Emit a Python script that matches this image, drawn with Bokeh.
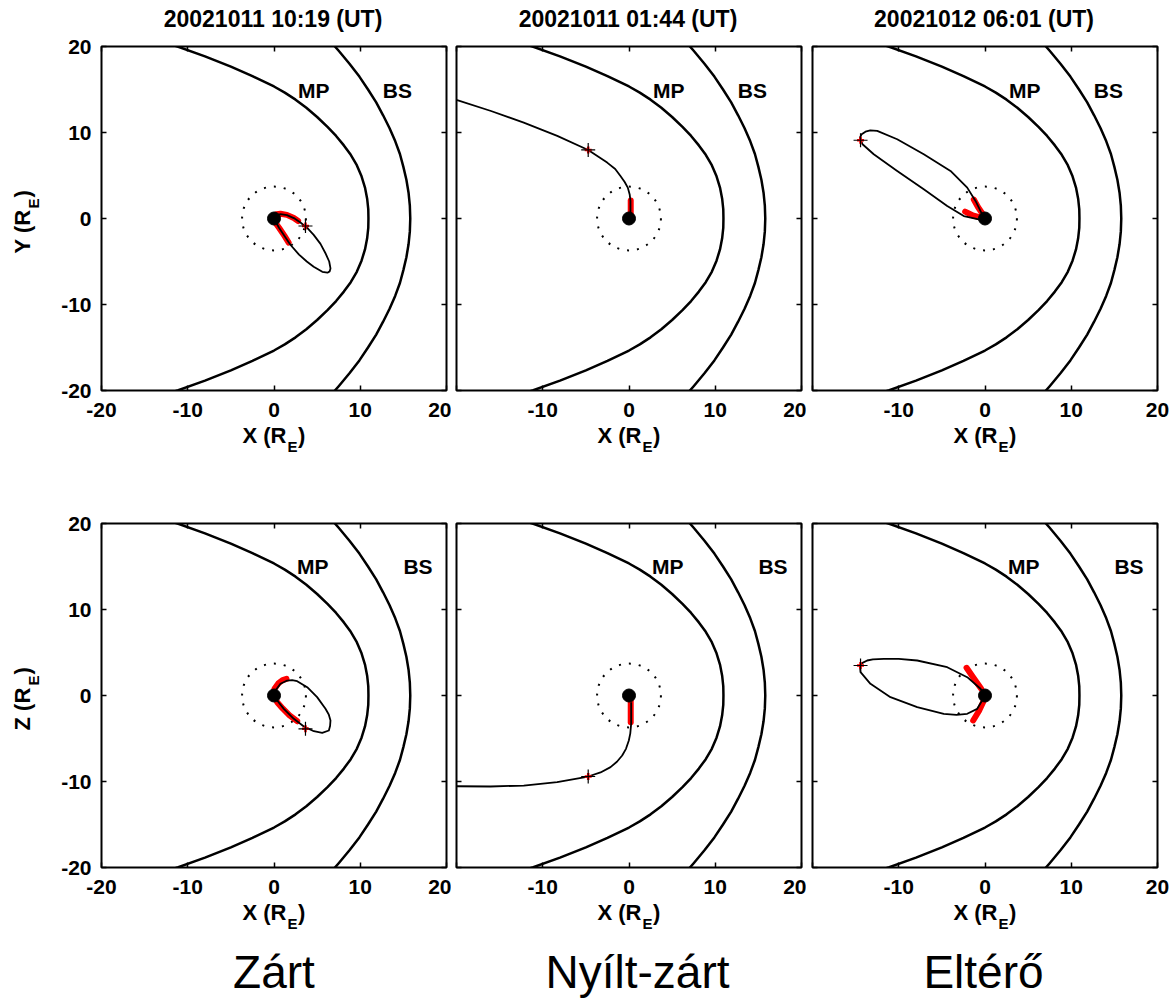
import math
from bokeh.plotting import figure
from bokeh.models import Label, FixedTicker, LinearAxis, Range1d, CustomLabelingPolicy
from bokeh.layouts import row, column
from bokeh.embed import file_html
from bokeh.resources import INLINE

FONT = "Liberation Sans"

# ---------------- data ----------------
ticks = [-20, -10, 0, 10, 20]
tick_labels = ["-20", "-10", "0", "10", "20"]
titles = ["20021011 10:19 (UT)", "20021011 01:44 (UT)", "20021012 06:01 (UT)"]
captions = ["Zárt", "Nyílt-zárt", "Eltérő"]
row_vars = ["Y", "Z"]
boundary_names = ["MP", "BS"]

# magnetopause (MP) and bow shock (BS), same in every panel
mp_x = [-13.5, -11.1, -8.0, -5.0, -2.5, 0.0, 1.25, 2.5, 3.75, 5.0, 6.2, 7.2, 8.1, 8.9, 9.6, 10.15, 10.55, 10.8, 10.93, 10.95,
        10.93, 10.8, 10.55, 10.15, 9.6, 8.9, 8.1, 7.2, 6.2, 5.0, 3.75, 2.5, 1.25, 0.0, -2.5, -5.0, -8.0, -11.1, -13.5]
mp_y = [20.76, 19.97, 18.85, 17.65, 16.55, 15.35, 14.64, 13.82, 12.87, 11.8, 10.65, 9.6, 8.5, 7.4, 6.2, 4.9, 3.6, 2.3, 1.1, 0.0,
        -1.1, -2.3, -3.6, -4.9, -6.2, -7.4, -8.5, -9.6, -10.65, -11.8, -12.87, -13.82, -14.64, -15.35, -16.55, -17.65, -18.85, -19.97, -20.76]
bs_x = [6.2, 7.5, 8.75, 9.9, 10.9, 11.85, 12.65, 13.4, 14.05, 14.6, 15.0, 15.35, 15.6, 15.75, 15.8,
        15.75, 15.6, 15.35, 15.0, 14.6, 14.05, 13.4, 12.65, 11.85, 10.9, 9.9, 8.75, 7.5, 6.2]
bs_y = [21.0, 19.5, 18.0, 16.5, 15.0, 13.5, 12.0, 10.5, 9.0, 7.5, 6.0, 4.5, 3.0, 1.5, 0.0,
        -1.5, -3.0, -4.5, -6.0, -7.5, -9.0, -10.5, -12.0, -13.5, -15.0, -16.5, -18.0, -19.5, -21.0]

earth_x = [0.0]
earth_y = [0.0]
circle_r = 3.7

# panel A: Zárt, X-Y
a_orbit_x = [0.2, 0.75, 1.5, 2.3, 3.1, 3.85, 4.6, 5.39, 6.0, 6.4, 6.55, 6.45, 6.2,
             5.6, 4.6, 3.8, 2.9, 1.9, 1.2, 0.6, 0.2]
a_orbit_y = [0.35, 0.5, 0.4, 0.05, -0.5, -1.1, -1.9, -2.95, -4.1, -5.0, -5.8, -6.15, -6.3,
             -6.2, -5.6, -5.0, -4.2, -3.05, -2.0, -1.1, -0.4]
a_red1_x = [0.3, 0.75, 1.5, 2.3, 2.8]
a_red1_y = [0.5, 0.55, 0.42, 0.05, -0.3]
a_red2_x = [0.1, 0.6, 1.2, 1.7]
a_red2_y = [-0.4, -1.1, -2.0, -2.8]
a_mark = (3.65, -0.87)

# panel B: Nyílt-zárt, X-Y
b_orbit_x = [-20.5, -19.92, -16.0, -12.2, -8.32, -4.73, -2.53, -1.6, -0.99, -0.5, -0.14, 0.08, 0.17, 0.17]
b_orbit_y = [14.0, 13.76, 12.5, 11.15, 9.6, 7.97, 6.5, 5.75, 4.95, 4.25, 3.59, 2.8, 2.04, 0.49]
b_red1_x = [0.2, 0.2]
b_red1_y = [2.1, 0.3]
b_mark = (-4.73, 7.97)

# panel C: Eltérő, X-Y
c_orbit_x = [0.0, -0.33, -1.10, -2.06, -4.0, -7.1, -10.18, -12.5, -13.3, -13.86, -14.3, -14.5,
             -14.2, -12.9, -10.18, -7.1, -4.38, -2.46, -0.72, 0.06]
c_orbit_y = [0.0, 0.49, 2.04, 3.59, 5.53, 7.47, 9.22, 10.19, 10.25, 10.1, 9.8, 9.4,
             8.63, 7.47, 5.53, 3.4, 1.46, 0.29, -0.1, -0.1]
c_red1_x = [-1.3, -0.8, -0.25]
c_red1_y = [2.2, 1.3, 0.5]
c_red2_x = [-2.3, -1.4, -0.5]
c_red2_y = [0.8, 0.35, 0.1]
c_mark = (-14.43, 9.1)

# panel D: Zárt, X-Z
d_orbit_x = [0.0, 0.17, 0.75, 1.53, 2.1, 2.69, 3.85, 5.0, 5.97, 6.35, 6.55, 6.5, 6.36, 5.59,
             4.62, 3.46, 2.3, 1.14, 0.37, 0.0]
d_orbit_y = [0.0, 0.58, 1.36, 1.74, 1.78, 1.66, 0.97, -0.19, -1.55, -2.2, -2.9, -3.55, -4.07, -4.34,
             -4.15, -3.6, -2.71, -1.55, -0.58, 0.0]
d_red1_x = [0.06, 0.5, 1.0, 1.45]
d_red1_y = [0.78, 1.4, 1.8, 1.94]
d_red2_x = [0.37, 1.0, 1.8, 2.69]
d_red2_y = [-0.78, -1.5, -2.3, -2.99]
d_mark = (3.65, -3.87)

# panel E: Nyílt-zárt, X-Z
e_orbit_x = [0.25, 0.25, 0.15, -0.02, -0.35, -0.79, -1.4, -2.14, -3.3, -4.73, -8.33, -12.2, -16.06, -19.92, -20.5]
e_orbit_y = [-0.78, -3.29, -4.4, -5.23, -6.2, -6.98, -7.7, -8.33, -8.95, -9.42, -10.08, -10.47, -10.58, -10.55, -10.55]
e_red1_x = [0.2, 0.2]
e_red1_y = [-0.6, -3.1]
e_mark = (-4.73, -9.42)

# panel F: Eltérő, X-Z
f_orbit_x = [0.0, -0.52, -2.06, -4.38, -7.86, -10.0, -11.73, -13.0, -13.66, -14.2, -14.5, -14.43, -13.28,
             -10.96, -7.86, -4.78, -3.3, -2.06, -0.9, -0.33, 0.0]
f_orbit_y = [0.0, 0.78, 2.13, 3.29, 4.07, 4.25, 4.26, 4.2, 4.07, 3.8, 3.49, 2.71, 1.36,
             -0.19, -1.36, -2.13, -2.25, -2.13, -1.55, -0.58, 0.0]
f_red1_x = [-2.14, -1.3, -0.44]
f_red1_y = [3.22, 2.0, 0.78]
f_red2_x = [-0.13, -0.7, -1.37]
f_red2_y = [-0.58, -1.8, -2.9]
f_mark = (-14.43, 3.49)

# label positions (data units) for MP / BS per row
row_label_pos = [[(4.6, 14.9), (14.3, 14.9)], [(4.5, 15.0), (16.7, 15.0)]]

panels = [
    [dict(ox=a_orbit_x, oy=a_orbit_y, reds=[(a_red1_x, a_red1_y), (a_red2_x, a_red2_y)], mark=a_mark),
     dict(ox=b_orbit_x, oy=b_orbit_y, reds=[(b_red1_x, b_red1_y)], mark=b_mark),
     dict(ox=c_orbit_x, oy=c_orbit_y, reds=[(c_red1_x, c_red1_y), (c_red2_x, c_red2_y)], mark=c_mark)],
    [dict(ox=d_orbit_x, oy=d_orbit_y, reds=[(d_red1_x, d_red1_y), (d_red2_x, d_red2_y)], mark=d_mark),
     dict(ox=e_orbit_x, oy=e_orbit_y, reds=[(e_red1_x, e_red1_y)], mark=e_mark),
     dict(ox=f_orbit_x, oy=f_orbit_y, reds=[(f_red1_x, f_red1_y), (f_red2_x, f_red2_y)], mark=f_mark)],
]

# ---------------- layout (pixels) ----------------
FW, FH = 345, 344
YSTRIP_W = 50
lefts = [51, 5, 6]          # panel left borders (first panel sits after the y-label strip)
strip_lefts = [101, 5, 6]   # strips spanning the y-label column too
rights = [5, 5, 14]
panel_tops = [12, 63]
panel_bottom = 33
TITLE_H = 34
XLAB_H = 37
XCAP_H = 99
BASE_K = 0.38   # empirical baseline correction (fraction of font size)

HIDE_ALL = CustomLabelingPolicy(code="""
const ids = Array.from(indices);
for (const i of ids) { indices.unset(i); }
return indices;
""")
HIDE_FIRST = CustomLabelingPolicy(code="""
indices.unset(0);
return indices;
""")


def style_axis(ax, labels):
    ax.ticker = FixedTicker(ticks=ticks, minor_ticks=[])
    ax.major_tick_in = 5
    ax.major_tick_out = 0
    ax.major_tick_line_width = 1.5
    ax.major_tick_line_color = "black"
    ax.minor_tick_line_color = None
    ax.axis_line_color = None
    if labels:
        ax.major_label_overrides = dict(zip(ticks, tick_labels))
        ax.major_label_text_font = FONT
        ax.major_label_text_font_style = "bold"
        ax.major_label_text_font_size = "21px"
        ax.major_label_text_color = "black"
    else:
        ax.major_label_policy = HIDE_ALL
        ax.major_label_text_font_size = "0px"
        ax.major_label_standoff = 0


def strip(width, height, left, right, xr, yr, top=0, bottom=0):
    s = figure(width=width, height=height, x_range=Range1d(*xr), y_range=Range1d(*yr),
               x_axis_type=None, y_axis_type=None, output_backend="svg", toolbar_location=None,
               min_border_left=left, min_border_right=right,
               min_border_top=top, min_border_bottom=bottom)
    s.outline_line_color = None
    s.background_fill_color = "white"
    s.border_fill_color = "white"
    return s


def tlabel(p, x, y, text, size, bold=True, align="left", angle=0.0):
    # y (or x for rotated text) is the wanted baseline; shift by the empirical correction
    corr = BASE_K * size
    if angle == 0.0:
        y = y + corr
    else:
        x = x - corr
    p.add_layout(Label(x=x, y=y, text=text, text_font=FONT, text_font_size=f"{size}px",
                       text_font_style="bold" if bold else "normal",
                       text_color="black", text_align=align, text_baseline="alphabetic",
                       angle=angle))


def x_label(p, y_base):
    tlabel(p, FW / 2 + 12.5, y_base, "X (R", 22, align="right")
    tlabel(p, FW / 2 + 13.5, y_base - 9, "E", 15, align="left")
    tlabel(p, FW / 2 + 24, y_base, ")", 22, align="left")


def panel(ri, ci):
    pd = panels[ri][ci]
    p = figure(width=lefts[ci] + FW + rights[ci], height=panel_tops[ri] + FH + panel_bottom,
               x_range=Range1d(-20, 20), y_range=Range1d(-20, 20),
               output_backend="svg", toolbar_location=None,
               min_border_left=lefts[ci], min_border_right=rights[ci],
               min_border_top=panel_tops[ri], min_border_bottom=panel_bottom)
    p.xgrid.visible = False
    p.ygrid.visible = False
    p.background_fill_color = "white"
    p.border_fill_color = "white"
    p.outline_line_color = "black"
    p.outline_line_width = 2
    style_axis(p.xaxis[0], True)
    p.xaxis[0].major_label_standoff = 12
    if ci > 0:
        p.xaxis[0].major_label_policy = HIDE_FIRST
    style_axis(p.yaxis[0], ci == 0)
    if ci == 0:
        p.yaxis[0].major_label_standoff = 10
    top_ax = LinearAxis()
    style_axis(top_ax, False)
    p.add_layout(top_ax, "above")
    right_ax = LinearAxis()
    style_axis(right_ax, False)
    p.add_layout(right_ax, "right")

    p.line(mp_x, mp_y, line_color="black", line_width=2.5, line_join="round")
    p.line(bs_x, bs_y, line_color="black", line_width=2.5, line_join="round")
    p.circle(x=earth_x, y=earth_y, radius=circle_r, fill_color=None,
             line_color="black", line_width=2, line_dash="2 8")
    for rx, ry in pd["reds"]:
        p.line(rx, ry, line_color="#ff0000", line_width=6, line_cap="round", line_join="round")
    p.line(pd["ox"], pd["oy"], line_color="black", line_width=1.8, line_join="round")
    p.scatter(earth_x, earth_y, size=13, color="black")
    mx, my = pd["mark"]
    p.scatter([mx], [my], marker="cross", size=7, line_color="#ff0000", line_width=2.5)
    p.scatter([mx], [my], marker="cross", size=14, line_color="black", line_width=1.2)

    for name, (lx, ly) in zip(boundary_names, row_label_pos[ri]):
        p.add_layout(Label(x=lx, y=ly, text=name, text_font=FONT, text_font_size="21px",
                           text_font_style="bold", text_color="black",
                           text_align="center", text_baseline="middle"))
    return p


def y_strip(ri):
    s = strip(YSTRIP_W, panel_tops[ri] + FH + panel_bottom, 0, 0, (0, YSTRIP_W), (0, FH),
              top=panel_tops[ri], bottom=panel_bottom)
    y0 = FH / 2 - 35
    tlabel(s, 30, y0, row_vars[ri] + " (R", 22, angle=math.pi / 2)
    tlabel(s, 39, y0 + 45, "E", 15, angle=math.pi / 2)
    tlabel(s, 30, y0 + 56, ")", 22, angle=math.pi / 2)
    return s


def sw(ci):
    return strip_lefts[ci] + FW + rights[ci]


# title strips
title_row = []
for ci in range(3):
    s = strip(sw(ci), TITLE_H, strip_lefts[ci], rights[ci], (0, FW), (0, TITLE_H))
    tlabel(s, FW / 2 - 1, 6.7, titles[ci], 23, align="center")
    title_row.append(s)

# x label strips under row 1
xlab_row = []
for ci in range(3):
    s = strip(sw(ci), XLAB_H, strip_lefts[ci], rights[ci], (0, FW), (0, XLAB_H))
    x_label(s, 17)
    xlab_row.append(s)

# x label + caption strips under row 2
xcap_row = []
caption_dx = [0, 8.5, -1.5]
for ci in range(3):
    s = strip(sw(ci), XCAP_H, strip_lefts[ci], rights[ci], (0, FW), (0, XCAP_H))
    x_label(s, 79)
    tlabel(s, FW / 2 + caption_dx[ci], 10, captions[ci], 46, bold=False, align="center")
    xcap_row.append(s)

row1 = [y_strip(0)] + [panel(0, ci) for ci in range(3)]
row2 = [y_strip(1)] + [panel(1, ci) for ci in range(3)]

layout = column(row(*title_row), row(*row1), row(*xlab_row), row(*row2), row(*xcap_row))
open("out.html", "w").write(file_html(layout, INLINE))
